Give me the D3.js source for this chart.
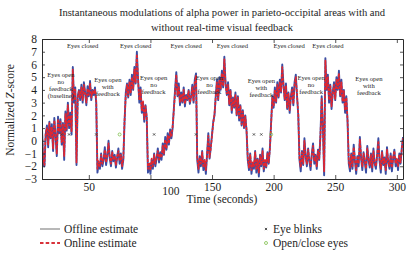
<!DOCTYPE html>
<html><head><meta charset="utf-8">
<script src="https://cdn.jsdelivr.net/npm/d3@7"></script>
<style>
body{margin:0;background:#fff}
svg{display:block}
text{font-family:"Liberation Serif","DejaVu Serif",serif;fill:#1e1e1e}
</style>
</head><body><svg id="c" width="415" height="253"></svg>
<script>
const titleLines = ["Instantaneous modulations of alpha power in parieto-occipital areas with and", "without real-time visual feedback"];
const xLabel = "Time (seconds)";
const yTicks = [-3,-2,-1,0,1,2,3,4,5,6,7,8];
const xTicks = [50,100,150,200,250,300];
const startTime = 12;
const offline = [
1.0,-1.9,-2.0,0.5,1.2,-0.5,1.5,0.2,1.3,-0.8,
1.8,0.4,-1.2,1.9,0.6,1.7,-0.3,1.4,-1.5,2.3,
0.8,3.0,1.0,2.2,0.5,5.8,3.0,4.2,-1.9,3.5,
4.0,3.2,4.4,3.0,4.6,3.8,2.8,4.3,3.5,4.7,
3.2,4.0,3.6,4.2,3.0,-2.5,-1.8,-2.2,-1.0,-2.0,
-1.5,-0.5,-1.9,-1.2,0.0,-1.4,-2.0,-0.8,-1.6,-1.1,
-2.1,-1.3,-0.6,-1.8,-1.0,-2.2,-1.5,1.5,3.8,4.5,
3.4,4.8,3.6,5.2,4.0,5.8,4.5,7.0,4.8,3.0,
4.2,2.2,3.0,1.5,2.8,1.8,-2.5,-1.8,-2.6,-1.5,
-2.2,-1.0,-2.0,-1.4,-0.6,-1.7,-0.9,-1.5,-0.2,-1.1,
0.3,-0.7,0.6,-0.3,0.9,0.2,1.0,2.5,4.0,5.4,
3.5,4.5,2.8,3.8,3.0,4.2,2.7,3.6,3.2,4.0,
2.9,3.5,4.4,3.0,4.8,5.3,-1.5,-2.5,-1.2,-2.0,
-0.8,-2.3,-1.6,-2.6,-1.0,0.6,-1.4,-0.5,0.5,1.5,
2.0,3.5,4.8,3.2,5.0,4.0,5.5,4.2,6.6,4.5,
3.6,4.6,2.8,4.0,2.2,3.4,2.6,3.8,2.0,3.5,
1.6,2.8,1.2,2.4,1.0,2.0,0.8,-1.5,-2.3,-1.0,
-2.6,-1.8,-2.2,-0.8,-2.5,-1.4,-2.8,-1.1,-2.0,-0.6,
-2.4,-1.6,-2.1,-0.9,-1.8,-0.5,1.5,3.5,2.6,4.2,
3.0,4.6,3.4,4.8,3.8,6.0,4.4,3.2,4.5,2.5,
3.8,2.2,3.5,4.2,2.8,4.6,5.2,3.5,2.0,-1.5,
-2.4,-0.8,-1.9,0.2,-1.2,-2.0,-0.6,-1.6,-2.3,-1.0,
-0.2,-1.8,-1.1,-2.2,-0.7,-1.5,0.5,3.5,1.0,-2.7,
6.5,4.0,5.2,3.0,4.4,2.5,3.8,4.6,3.2,5.0,
4.0,5.5,3.5,4.8,3.0,4.0,2.2,3.5,1.5,-1.8,
-2.4,-1.0,-2.2,-0.3,-1.6,-2.6,-1.2,-2.0,0.3,-1.4,
-2.3,-0.9,-1.7,-2.5,-0.4,-1.5,-2.1,-1.0,-2.4,-0.6,
-1.8,-2.2,-1.1,0.2,-1.6,-2.5,-0.8,-1.9,-1.3,-2.6,
-0.5,-1.7,-2.2,-1.0,-2.4,-1.4,-0.7,-2.0,-1.5,-2.3,
-1.0,-1.8,-0.6,0.3];
const online = [
0.8,-1.6,-1.9,0.6,1.0,-0.3,1.4,0.3,1.1,-0.6,
1.6,0.5,-1.0,1.7,0.7,1.5,-0.1,1.3,-1.2,2.1,
0.9,2.8,1.2,2.0,0.7,5.6,3.2,4.0,-1.7,3.4,
3.9,3.4,4.2,3.2,4.4,3.7,3.0,4.1,3.6,4.5,
3.4,3.9,3.7,4.0,3.2,-2.2,-1.6,-2.0,-1.1,-1.8,
-1.4,-0.7,-1.7,-1.1,-0.2,-1.3,-1.8,-0.9,-1.5,-1.2,
-1.9,-1.2,-0.8,-1.6,-1.1,-2.0,-1.4,1.6,3.6,4.4,
3.5,4.6,3.8,5.0,4.1,5.6,4.6,6.8,4.7,3.2,
4.0,2.4,3.1,1.7,2.7,1.9,-2.2,-1.7,-2.3,-1.4,
-2.0,-1.1,-1.8,-1.3,-0.8,-1.5,-1.0,-1.3,-0.4,-1.0,
0.1,-0.6,0.4,-0.2,0.7,0.3,1.1,2.4,3.8,5.2,
3.6,4.3,3.0,3.7,3.1,4.0,2.9,3.5,3.3,3.9,
3.0,3.4,4.2,3.1,4.6,5.1,-1.3,-2.2,-1.3,-1.8,
-0.9,-2.1,-1.5,-2.3,-1.1,0.4,-1.3,-0.6,0.4,1.4,
2.1,3.4,4.6,3.3,4.8,4.1,5.3,4.3,6.4,4.4,
3.7,4.4,2.9,3.9,2.4,3.3,2.7,3.6,2.1,3.4,
1.8,2.7,1.3,2.3,1.1,1.9,0.9,-1.3,-2.1,-1.1,
-2.3,-1.7,-2.0,-0.9,-2.2,-1.5,-2.5,-1.2,-1.9,-0.8,
-2.2,-1.5,-2.0,-1.0,-1.7,-0.6,1.4,3.4,2.7,4.0,
3.1,4.4,3.5,4.6,3.9,5.8,4.3,3.3,4.3,2.6,
3.7,2.4,3.4,4.0,2.9,4.4,5.0,3.6,2.1,-1.4,
-2.1,-0.9,-1.8,0.0,-1.3,-1.8,-0.7,-1.5,-2.0,-1.1,
-0.4,-1.6,-1.2,-2.0,-0.8,-1.4,0.4,3.3,1.1,-2.4,
6.3,4.1,5.0,3.2,4.3,2.7,3.7,4.4,3.3,4.8,
4.1,5.3,3.6,4.6,3.1,3.9,2.4,3.4,1.6,-1.6,
-2.1,-1.1,-2.0,-0.5,-1.5,-2.3,-1.3,-1.8,0.1,-1.3,
-2.0,-1.0,-1.6,-2.2,-0.6,-1.4,-1.9,-1.1,-2.1,-0.8,
-1.7,-2.0,-1.2,0.0,-1.5,-2.2,-0.9,-1.8,-1.4,-2.3,
-0.7,-1.6,-2.0,-1.1,-2.1,-1.3,-0.8,-1.8,-1.4,-2.0,
-1.1,-1.7,-0.7,0.2];
const eyeBlinks = [28, 34, 56, 103, 137, 184, 190];
const openClose = [75, 198];
const markerLevel = 0.5;
const closedLabelTimes = [45, 88, 129, 166.5, 212.5, 244];
const openLabelTimes = [27.3, 65.4, 102.6, 147.9, 190, 230.4, 277.3];
const openLabelTexts = [
  ["Eyes open","no","feedback","(baseline)"],
  ["Eyes open","with","feedback"],
  ["Eyes open","no","feedback"],
  ["Eyes open","no","feedback"],
  ["Eyes open","with","feedback"],
  ["Eyes open","no","feedback"],
  ["Eyes open","with","feedback"]];
const openLabelLevels = [5.17, 4.78, 4.94, 4.94, 4.7, 4.94, 4.85];
const legendSeries = ["Offline estimate", "Online estimate"];
const legendMarkers = ["Eye blinks", "Open/close eyes"];

const FONT = '"Liberation Serif","DejaVu Serif",serif';
const svg = d3.select("#c");
const L = 42, R = 403, T = 39, B = 179;
const x = d3.scaleLinear().domain([12, 305]).range([L, R]);
const y = d3.scaleLinear().domain([-3, 8]).range([B, T]);
const ink = "#2a2a2a";

// title
svg.append("g").selectAll("text").data(titleLines).join("text")
  .attr("x", 222).attr("y", (d,i) => 15.5 + i*15).attr("font-family", FONT)
  .attr("text-anchor", "middle").attr("font-size", 10.6).text(d => d);

svg.append("defs").append("clipPath").attr("id","clip")
  .append("rect").attr("x", L).attr("y", T).attr("width", R-L).attr("height", B-T);

const times = offline.map((d,i) => startTime + i);
const line = d3.line().x((d,i) => x(times[i])).y(d => y(d));
const plot = svg.append("g").attr("clip-path","url(#clip)");
plot.append("path").datum(offline).attr("d", line)
  .attr("fill","none").attr("stroke","#3a4ea3").attr("stroke-width",1.9).attr("stroke-linejoin","round");
plot.append("path").datum(online).attr("d", line)
  .attr("fill","none").attr("stroke","#e3262e").attr("stroke-width",1.7)
  .attr("stroke-dasharray","3,1.2").attr("stroke-linejoin","round");

// markers
const crossPath = "M-1.1,-1.1L1.1,1.1M-1.1,1.1L1.1,-1.1";
svg.append("g").selectAll("path").data(eyeBlinks).join("path")
  .attr("transform", d => `translate(${x(d)},${y(markerLevel)})`)
  .attr("d", crossPath).attr("stroke", "#444").attr("stroke-width", 0.9);
svg.append("g").selectAll("circle").data(openClose).join("circle")
  .attr("cx", d => x(d)).attr("cy", y(markerLevel)).attr("r", 1.5)
  .attr("fill","none").attr("stroke","#7dbf4a").attr("stroke-width",0.8);

// axes
function styleAxis(g){
  g.select(".domain").attr("stroke", ink).attr("stroke-width", 1);
  g.selectAll(".tick line").attr("stroke", ink).attr("stroke-width", 0.8);
  g.selectAll(".tick text").attr("fill", "#1e1e1e")
    .attr("font-family", FONT).attr("font-size", 11.5);
}
svg.append("g").attr("transform", `translate(${L},0)`)
  .call(d3.axisLeft(y).tickValues(yTicks).tickSize(-3).tickSizeOuter(0).tickPadding(5))
  .call(styleAxis);
svg.append("g").attr("transform", `translate(${R},0)`)
  .call(d3.axisRight(y).tickValues(yTicks).tickSize(-3).tickSizeOuter(0).tickFormat(""))
  .call(styleAxis);
svg.append("g").attr("transform", `translate(0,${T})`)
  .call(d3.axisTop(x).tickValues(xTicks).tickSize(-4).tickSizeOuter(0).tickFormat(""))
  .call(styleAxis);
const bx = svg.append("g").attr("transform", `translate(0,${B})`)
  .call(d3.axisBottom(x).tickValues(xTicks).tickSize(-4).tickSizeOuter(0).tickPadding(4))
  .call(styleAxis);
bx.selectAll(".tick text").filter(d => d === 100).attr("dx", 20).attr("dy", "1.05em");

svg.append("text").attr("x", 222).attr("y", 203).attr("text-anchor","middle")
  .attr("font-family", FONT).attr("font-size", 11.5).text(xLabel);
const yl = svg.append("text").attr("transform", "translate(14,110) rotate(-90)")
  .attr("font-family", FONT).attr("text-anchor","middle").attr("font-size", 11.5);
yl.append("tspan").text("Normalized ");
yl.append("tspan").attr("font-style","italic").text("Z");
yl.append("tspan").text("-score");

// annotations
svg.append("g").selectAll("text").data(closedLabelTimes).join("text")
  .attr("x", d => x(d)).attr("y", y(7.45) + 2.3).attr("text-anchor","middle")
  .attr("font-family", FONT).attr("font-size", 6.6).text("Eyes closed");
openLabelTimes.forEach((t, i) => {
  svg.append("g").selectAll("text").data(openLabelTexts[i]).join("text")
    .attr("x", x(t)).attr("y", (d, j) => y(openLabelLevels[i]) + 2.3 + j*7)
    .attr("font-family", FONT)
    .attr("text-anchor","middle").attr("font-size", 6.6).text(d => d);
});

// legend
const lg = svg.append("g");
lg.append("line").attr("x1",40).attr("x2",60).attr("y1",229).attr("y2",229)
  .attr("stroke","#a0a0a0").attr("stroke-width",1.5);
lg.append("line").attr("x1",40).attr("x2",60).attr("y1",243).attr("y2",243)
  .attr("stroke","#d8323a").attr("stroke-width",2).attr("stroke-dasharray","3.5,2.2");
lg.selectAll("text.s").data(legendSeries).join("text").attr("class","s")
  .attr("font-family", FONT)
  .attr("x", 64).attr("y", (d,i) => 232.5 + i*14).attr("font-size", 11.5).text(d => d);
lg.append("path").attr("transform","translate(266,229)").attr("d", crossPath)
  .attr("stroke","#444").attr("stroke-width",0.9);
lg.append("circle").attr("cx",266).attr("cy",243).attr("r",1.5)
  .attr("fill","none").attr("stroke","#7dbf4a").attr("stroke-width",0.8);
lg.selectAll("text.m").data(legendMarkers).join("text").attr("class","m")
  .attr("font-family", FONT)
  .attr("x", 273).attr("y", (d,i) => 232.5 + i*14).attr("font-size", 11.5).text(d => d);
</script></body></html>
